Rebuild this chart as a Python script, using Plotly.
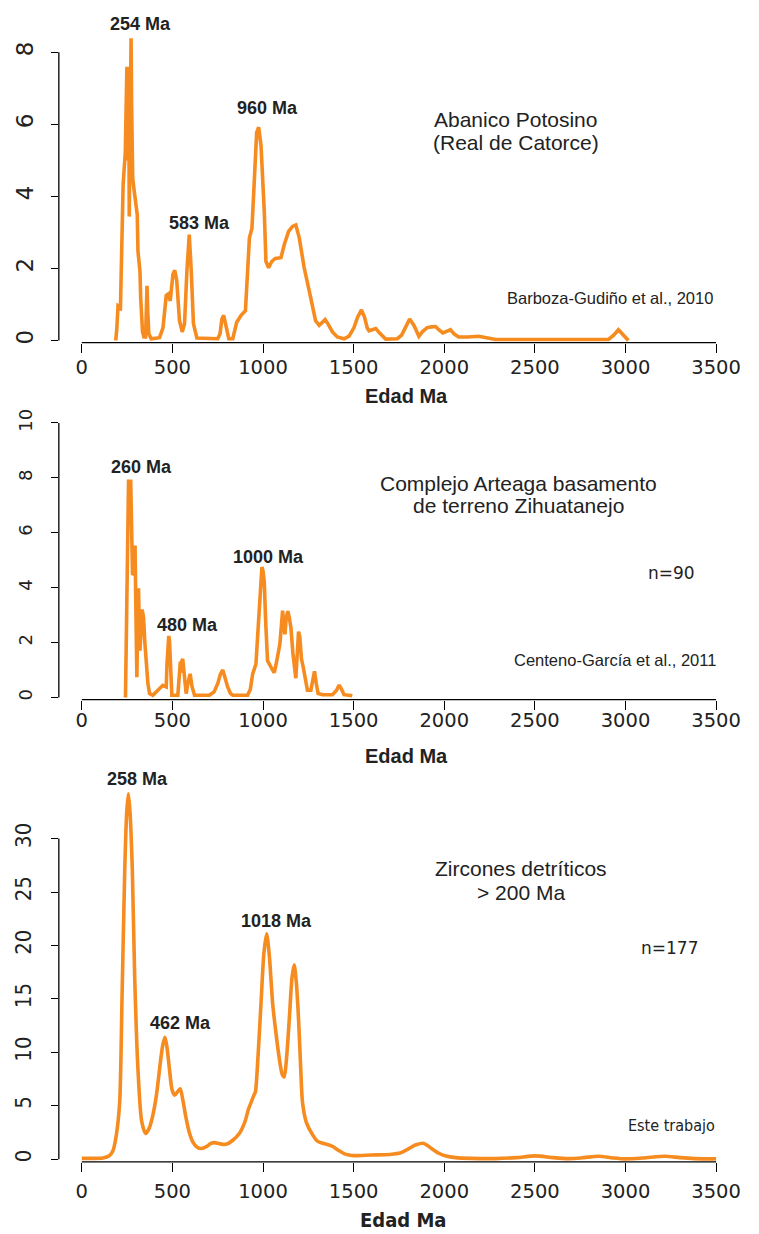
import plotly.graph_objects as go

W, H = 759, 1234

# ---------------- data ----------------
top_age = [187, 193, 200, 208, 213, 218, 222, 228, 233, 240, 246, 249, 252, 256, 259, 262, 267, 272, 275,
           281, 288, 295, 306, 310, 316, 321, 325, 328, 335, 343, 352, 356, 360, 364, 370, 383, 429, 448,
           466, 477, 488, 503, 513, 524, 539, 554, 567, 580, 593, 604, 616, 635, 750, 763, 773, 783, 796,
           811, 833, 855, 879, 903, 915, 925, 939, 952, 965, 976, 989, 1007, 1016, 1031, 1049, 1068, 1099,
           1117, 1141, 1163, 1181, 1200, 1227, 1255, 1273, 1290, 1310, 1327, 1343, 1360, 1383, 1410, 1447,
           1475, 1502, 1522, 1543, 1560, 1575, 1585, 1600, 1622, 1645, 1677, 1741, 1765, 1783, 1809, 1833,
           1860, 1880, 1906, 1930, 1952, 1970, 1992, 2010, 2034, 2055, 2080, 2130, 2190, 2240, 2282, 2906,
           2935, 2961, 2985, 3016]
top_dens = [0.0, 0.3, 0.97, 0.95, 0.83, 2.0, 3.58, 4.3, 4.7, 5.2, 6.8, 7.6, 5.0, 7.6, 7.6, 3.44, 6.0, 8.39, 6.5,
            4.5, 4.2, 3.95, 3.5, 2.48, 2.1, 1.93, 1.2, 0.66, 0.25, 0.1, 0.1, 0.8, 1.52, 0.8, 0.19, 0.05, 0.08, 0.35,
            1.25, 1.29, 1.1, 1.84, 1.95, 1.66, 0.56, 0.24, 0.47, 1.93, 2.94, 1.93, 0.47, 0.07, 0.05, 0.19, 0.6, 0.7, 0.38,
            0.05, 0.05, 0.51, 0.7, 0.83, 1.93, 2.85, 3.12, 4.68, 5.78, 5.92, 5.41, 3.58, 2.2, 2.02, 2.2, 2.28, 2.3,
            2.66, 3.03, 3.17, 3.21, 2.85, 2.02, 1.38, 0.9, 0.55, 0.42, 0.52, 0.58, 0.45, 0.24, 0.1, 0.05,
            0.12, 0.36, 0.65, 0.85, 0.65, 0.35, 0.27, 0.3, 0.33, 0.2, 0.04, 0.05, 0.15, 0.33, 0.6, 0.42,
            0.12, 0.25, 0.36, 0.38, 0.39, 0.3, 0.21, 0.25, 0.3, 0.18, 0.1, 0.1, 0.12, 0.07, 0.03, 0.03,
            0.15, 0.3, 0.18, 0.0]

mid_age = [241, 244, 248, 253, 258, 270, 275, 280, 284, 288, 294, 300, 304, 308, 313, 316, 321, 326, 331, 336,
           341, 348, 356, 365, 374, 392, 420, 440, 447, 458, 466, 470, 475, 480, 484, 490, 497, 530, 535, 539,
           544, 548, 551, 557, 562, 567, 576, 585, 598, 608, 622, 704, 730, 750, 765, 778, 790, 805, 820, 833,
           915, 930, 943, 961, 970, 980, 988, 994, 1000, 1007, 1015, 1025, 1044, 1062, 1072, 1080, 1093, 1100,
           1108, 1115, 1121, 1128, 1137, 1145, 1154, 1165, 1175, 1181, 1190, 1196, 1203, 1212, 1222, 1235,
           1245, 1264, 1275, 1284, 1294, 1304, 1330, 1383, 1405, 1420, 1433, 1447, 1484, 1492]
mid_dens = [0.0, 1.5, 4.0, 6.8, 7.87, 7.87, 6.0, 4.46, 4.5, 5.47, 5.47, 2.5, 0.74, 2.5, 3.98, 3.0, 1.7, 2.3, 3.2, 3.1,
            2.9, 2.0, 1.1, 0.5, 0.14, 0.08, 0.26, 0.42, 0.44, 0.4, 0.38, 1.2, 2.24, 2.24, 2.06, 0.9, 0.08, 0.08, 0.6, 1.28,
            1.3, 0.9, 1.3, 1.4, 1.0, 0.6, 0.14, 0.5, 0.86, 0.4, 0.08, 0.08, 0.2, 0.5, 0.85, 1.0, 0.7, 0.38, 0.15, 0.08,
            0.08, 0.3, 0.86, 1.22, 2.2, 3.5, 4.5, 4.75, 4.6, 4.2, 2.7, 1.34, 1.1, 0.9, 1.2, 1.46, 1.94, 2.5,
            3.16, 2.6, 2.3, 2.9, 3.14, 2.9, 2.54, 1.6, 0.8, 0.7, 1.7, 2.4, 2.2, 1.4, 1.1, 0.5,
            0.26, 0.26, 0.7, 0.95, 0.5, 0.14, 0.1, 0.1, 0.25, 0.45, 0.3, 0.1, 0.07, 0.05]

bot_age = [0, 60, 117, 150, 172, 190, 209, 222, 237, 248, 257, 266, 279, 292, 310, 330, 352, 372, 392, 412, 429,
           446, 459, 470, 484, 498, 512, 528, 543, 558, 576, 595, 613, 635, 659, 690, 710, 732, 760, 796, 835,
           869, 900, 920, 934, 950, 958, 972, 989, 1005, 1020, 1035, 1053, 1070, 1090, 1105, 1117, 1130, 1145,
           1160, 1172, 1184, 1196, 1208, 1218, 1240, 1273, 1300, 1328, 1360, 1383, 1420, 1450, 1475, 1500,
           1600, 1700, 1760, 1805, 1845, 1888, 1930, 1970, 2010, 2062, 2150, 2282, 2400, 2502, 2600, 2686,
           2770, 2851, 2930, 2997, 3100, 3218, 3300, 3383, 3500]
bot_dens = [0.08, 0.08, 0.12, 0.3, 0.8, 2.2, 5.3, 15.0, 27.0, 32.5, 34.2, 32.5, 27.0, 17.0, 8.4, 3.6, 2.4, 2.9, 4.1, 6.0, 8.4,
            10.6, 11.4, 10.5, 8.4, 6.5, 6.0, 6.3, 6.6, 5.5, 3.8, 2.4, 1.6, 1.15, 1.0, 1.2, 1.45, 1.55, 1.45, 1.4, 1.8,
            2.4, 3.5, 4.7, 5.3, 6.0, 6.3, 9.5, 14.6, 19.3, 21.1, 19.0, 14.6, 12.0, 9.4, 8.0, 7.7, 9.5, 13.1,
            17.0, 18.2, 16.5, 13.1, 8.5, 5.3, 3.4, 2.3, 1.7, 1.5, 1.35, 1.2, 0.8, 0.5, 0.4, 0.34,
            0.4, 0.45, 0.6, 1.0, 1.35, 1.48, 1.0, 0.56, 0.3, 0.15, 0.08, 0.06, 0.15, 0.31, 0.15, 0.06,
            0.15, 0.28, 0.12, 0.03, 0.12, 0.28, 0.15, 0.06, 0.03]

x_ticks = [0, 500, 1000, 1500, 2000, 2500, 3000, 3500]
top_yticks = [0, 2, 4, 6, 8]
mid_yticks = [0, 2, 4, 6, 8, 10]
bot_yticks = [0, 5, 10, 15, 20, 25, 30]

# ---------------- layout helpers ----------------
ORANGE = "#F68B1F"
TXT = "#222222"
X0PX, XS = 82.0, 636.0 / 3500.0


def px2ma(px):
    return (px - X0PX) / XS


def fx(px):
    return px / W


def fy(py):
    return (H - py) / H


x_range = [px2ma(59), px2ma(741)]
x_domain = [fx(59), fx(741)]

NARROW_FAM = "Liberation Sans Narrow, DejaVu Sans Condensed, Liberation Sans"
panels = [
    dict(age=top_age, dens=top_dens, y0=336.0, ys=36.29, bot=338.0, top=25.0, ticks=top_yticks, shape="linear",
         yfont=dict(family="DejaVu Sans", size=23, color=TXT), ystand=9, xstand=-2),
    dict(age=mid_age, dens=mid_dens, y0=695.5, ys=27.65, bot=697.8, top=412.0, ticks=mid_yticks, shape="linear",
         yfont=dict(family="DejaVu Sans", size=18, color=TXT), ystand=12, xstand=-6),
    dict(age=bot_age, dens=bot_dens, y0=1160.7, ys=10.767, bot=1163.3, top=785.0, ticks=bot_yticks, shape="spline",
         yfont=dict(family=NARROW_FAM, size=22, color=TXT), ystand=11, xstand=3),
]

fig = go.Figure()
shapes = []
for i, p in enumerate(panels, start=1):
    xa = "x" if i == 1 else f"x{i}"
    ya = "y" if i == 1 else f"y{i}"
    fig.add_trace(go.Scatter(x=p["age"], y=p["dens"], mode="lines", xaxis=xa, yaxis=ya,
                             line=dict(color=ORANGE, width=3.6, shape=p["shape"],
                                       smoothing=0.7 if p["shape"] == "spline" else None),
                             hoverinfo="skip", showlegend=False))
    yr = [(p["y0"] - p["bot"]) / p["ys"], (p["y0"] - p["top"]) / p["ys"]]
    xkey = "xaxis" if i == 1 else f"xaxis{i}"
    ykey = "yaxis" if i == 1 else f"yaxis{i}"
    fig.layout[xkey] = dict(domain=x_domain, range=x_range, anchor=ya, showgrid=False, zeroline=False,
                            showline=False, ticks="outside", ticklen=9, tickwidth=1.3, tickcolor="black",
                            tickvals=x_ticks, ticktext=[str(t) for t in x_ticks],
                            tickfont=dict(family="DejaVu Sans", size=19.5, color=TXT),
                            ticklabelstandoff=p["xstand"])
    fig.layout[ykey] = dict(domain=[fy(p["bot"]), fy(p["top"])], range=yr, anchor=xa, showgrid=False,
                            zeroline=False, showline=False, ticks="outside", ticklen=7, tickwidth=1.3,
                            tickcolor="black", tickvals=p["ticks"], ticktext=[str(t) for t in p["ticks"]],
                            tickangle=-90, tickfont=p["yfont"], ticklabelstandoff=p["ystand"])
    shapes.append(dict(type="line", xref=xa, yref=f"{ya} domain", x0=0, x1=3500, y0=0, y1=0,
                       line=dict(color="black", width=1.3)))
    shapes.append(dict(type="line", xref=f"{xa} domain", yref=ya, x0=0, x1=0, y0=0, y1=p["ticks"][-1],
                       line=dict(color="black", width=1.3)))

BOLD = dict(family="Liberation Sans, Arial, sans-serif", size=18, color=TXT, weight="bold")
REG = dict(family="Liberation Sans, Arial, sans-serif", size=21, color=TXT)
SMALL = dict(family="Liberation Sans, Arial, sans-serif", size=16.5, color=TXT)
NFONT = dict(family="DejaVu Sans", size=17, color=TXT)
NARROW = dict(family=NARROW_FAM, size=16, color=TXT)
TITLE = dict(family="Liberation Sans, Arial, sans-serif", size=20, color=TXT, weight="bold")
TITLE_N = dict(family=NARROW_FAM, size=20, color=TXT, weight="bold")

texts = [
    ("254 Ma", 141, 17, BOLD), ("583 Ma", 200, 218, BOLD), ("960 Ma", 268, 102, BOLD),
    ("Abanico Potosino", 517, 113, REG), ("(Real de Catorce)", 517, 136, REG),
    ("Barboza-Gudiño et al., 2010", 612, 293, SMALL), ("Edad Ma", 408, 392, TITLE),
    ("260 Ma", 142, 463, BOLD), ("480 Ma", 188, 623, BOLD), ("1000 Ma", 269, 554, BOLD),
    ("Complejo Arteaga basamento", 520, 480, REG), ("de terreno Zihuatanejo", 520, 502, REG),
    ("n=90", 673, 570, NFONT), ("Centeno-García et al., 2011", 617, 658, SMALL), ("Edad Ma", 408, 755, TITLE),
    ("258 Ma", 138, 778, BOLD), ("462 Ma", 181, 1023, BOLD), ("1018 Ma", 277, 921, BOLD),
    ("Zircones detríticos", 522, 868, REG), ("> 200 Ma", 522, 892, REG),
    ("n=177", 671, 948, NFONT), ("Este trabajo", 673, 1127, NARROW), ("Edad Ma", 405, 1222, TITLE_N),
]
annotations = [dict(text=t, x=fx(x), y=fy(y), xref="paper", yref="paper", xanchor="center", yanchor="middle",
                    showarrow=False, font=f) for t, x, y, f in texts]

fig.update_layout(width=W, height=H, margin=dict(l=0, r=0, t=0, b=0), paper_bgcolor="white",
                  plot_bgcolor="white", shapes=shapes, annotations=annotations, showlegend=False)
fig.write_html("out.html")
